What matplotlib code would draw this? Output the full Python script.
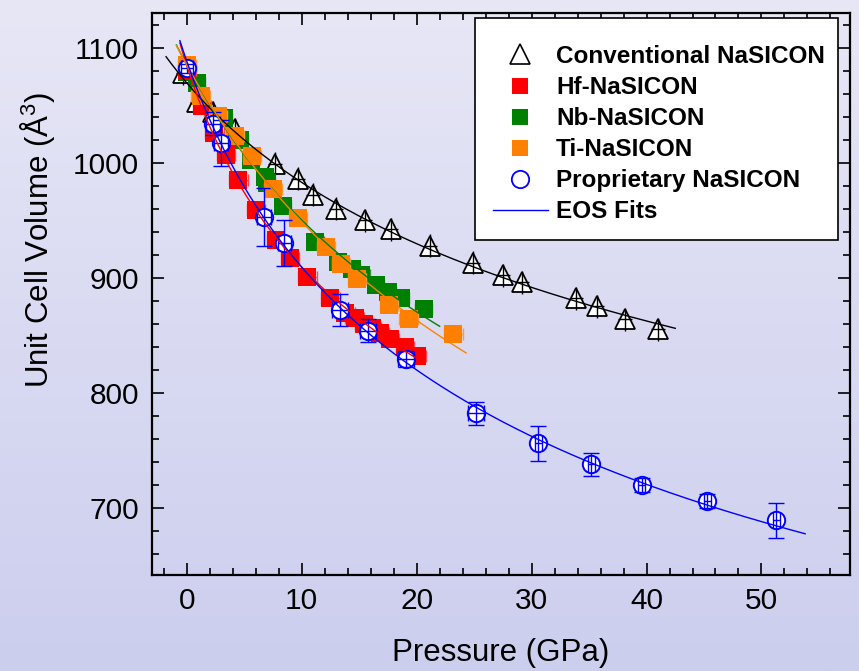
import numpy as np
import matplotlib
matplotlib.use("Agg")
import matplotlib.pyplot as plt
from matplotlib.lines import Line2D
from matplotlib.patches import Rectangle
from matplotlib import font_manager

# ---- data ----
conv_p = [-0.3, 0.9, 2.3, 4.2, 7.7, 9.7, 11.0, 13.0, 15.5, 17.8, 21.2, 24.9, 27.5, 29.2, 33.9, 35.7, 38.1, 41.0]
conv_v = [1078, 1053, 1044, 1029, 999, 986, 972, 960, 950, 942, 928, 913, 902, 896, 882, 875, 864, 855]

hf_p = [0.0, 1.3, 2.4, 3.4, 4.5, 6.0, 7.8, 9.0, 10.5, 12.5, 13.8, 14.6, 15.4, 16.1, 16.8, 17.7, 19.0, 20.0]
hf_v = [1081, 1049, 1026, 1007, 985, 959, 933, 917, 901, 882, 869, 865, 860, 856, 852, 847, 840, 832]

nb_p = [0.0, 0.9, 3.2, 4.6, 5.6, 6.8, 7.0, 8.4, 11.2, 13.2, 14.4, 15.2, 16.5, 17.5, 18.6, 20.6]
nb_v = [1079, 1069, 1039, 1020, 1002, 988, 982, 962, 931, 914, 908, 902, 894, 888, 882, 873]

ti_p = [0.0, 1.2, 2.7, 4.2, 5.7, 7.5, 9.7, 12.1, 13.4, 14.8, 17.6, 19.3, 23.2]
ti_v = [1085, 1058, 1041, 1023, 1006, 977, 952, 927, 912, 899, 876, 864, 851]

prop_p = [0.0, 2.3, 3.0, 6.7, 8.5, 13.3, 15.8, 19.1, 25.2, 30.6, 35.2, 39.6, 45.3, 51.3]
prop_v = [1082, 1034, 1017, 953, 930, 872, 854, 829, 782, 756, 738, 720, 706, 689]
prop_verr = [4, 10, 20, 25, 20, 14, 10, 7, 10, 15, 10, 6, 6, 15]
prop_perr = [0.5, 0.6, 0.6, 0.6, 0.6, 0.7, 0.7, 0.7, 0.7, 0.3, 0.3, 0.3, 0.3, 0.3]

# pressure span of each EOS fit line
fit_span = {
    "conv": (-1.8, 42.5),
    "hf": (-0.6, 20.0),
    "nb": (-0.9, 22.0),
    "ti": (-0.9, 24.3),
    "prop": (-0.6, 53.8),
}

labels = ["Conventional NaSICON", "Hf-NaSICON", "Nb-NaSICON", "Ti-NaSICON",
          "Proprietary NaSICON", "EOS Fits"]

# ---- fonts ----
names = {f.name for f in font_manager.fontManager.ttflist}
base_font = "Liberation Sans" if "Liberation Sans" in names else "DejaVu Sans"
narrow = "Liberation Sans Narrow" in names
lab_font = "Liberation Sans Narrow" if narrow else base_font
tick_size = 24 if narrow else 21.5
lab_size = 26 if narrow else 22.5
plt.rcParams["font.family"] = [lab_font, "DejaVu Sans"]
plt.rcParams["mathtext.fontset"] = "custom"
plt.rcParams["mathtext.rm"] = lab_font

fig = plt.figure(figsize=(8.59, 6.71), dpi=100)

# gradient background
bg = fig.add_axes([0, 0, 1, 1], zorder=-10)
top_c = np.array([231, 231, 246]) / 255
bot_c = np.array([204, 206, 238]) / 255
t = np.linspace(0, 1, 256)[:, None]
grad = top_c[None, :] * (1 - t) + bot_c[None, :] * t
bg.imshow(grad[:, None, :], aspect="auto", extent=[0, 1, 0, 1])
bg.axis("off")

ax = fig.add_axes([0.1766, 0.1431, 0.8129, 0.8375])
ax.set_facecolor("none")


def murnaghan_fit(p, v):
    # brute force least squares over K0, K'; V0 solved linearly
    p = np.asarray(p, float)
    v = np.asarray(v, float)
    best = None
    for k0 in np.arange(20, 300, 1.0):
        for kp in np.arange(1.0, 15.0, 0.1):
            g = (1 + kp * p / k0) ** (-1 / kp)
            v0 = g @ v / (g @ g)
            r = np.sum((v - v0 * g) ** 2)
            if best is None or r < best[0]:
                best = (r, v0, k0, kp)
    return best[1:]


def eos_line(p, v, span, color):
    v0, k0, kp = murnaghan_fit(p, v)
    pp = np.linspace(span[0], span[1], 200)
    ax.plot(pp, v0 * (1 + kp * pp / k0) ** (-1 / kp), color=color, lw=1.0, zorder=10)


# conventional
ax.plot(conv_p, conv_v, "^", ms=14, mfc="white", mec="black", mew=1.3, zorder=3)
ax.errorbar(conv_p, conv_v, xerr=0.6, yerr=10, fmt="none", ecolor="black",
            elinewidth=1.0, capsize=0, zorder=3.5)
eos_line(conv_p, conv_v, fit_span["conv"], "black")

# Nb
ax.errorbar(nb_p, nb_v, xerr=0.7, fmt="none", ecolor="#3a9a3a", elinewidth=1.0,
            capsize=4.5, zorder=4)
ax.plot(nb_p, nb_v, "s", ms=12.5, mfc="#008000", mec="#008000", mew=0, zorder=4.2)
eos_line(nb_p, nb_v, fit_span["nb"], "#008000")

# Hf
ax.errorbar(hf_p, hf_v, xerr=0.8, fmt="none", ecolor="#ff4a4a", elinewidth=1.0,
            capsize=4.5, zorder=5)
ax.plot(hf_p, hf_v, "s", ms=12.5, mfc="#ff0000", mec="#ff0000", mew=0, zorder=5.2)
eos_line(hf_p, hf_v, fit_span["hf"], "#ff0000")

# Ti
ax.errorbar(ti_p, ti_v, xerr=0.8, fmt="none", ecolor="#ff9a3a", elinewidth=1.0,
            capsize=4.5, zorder=6)
ax.plot(ti_p, ti_v, "s", ms=12.5, mfc="#ff8000", mec="#ff8000", mew=0, zorder=6.2)
eos_line(ti_p, ti_v, fit_span["ti"], "#ff8000")

# Proprietary
ax.plot(prop_p, prop_v, "o", ms=12.5, mfc="white", mec="#0000ff", mew=1.4, zorder=8)
ax.errorbar(prop_p, prop_v, xerr=prop_perr, yerr=prop_verr, fmt="none",
            ecolor="#0000ff", elinewidth=1.0, capsize=6, capthick=1.0, zorder=8.5)
eos_line(prop_p, prop_v, fit_span["prop"], "#0000ff")

ax.set_xlim(-3.05, 57.7)
ax.set_ylim(641.5, 1130.2)
ax.set_xticks([0, 10, 20, 30, 40, 50])
ax.set_xticks(np.arange(-2, 58, 2), minor=True)
ax.set_yticks([700, 800, 900, 1000, 1100])
ax.set_yticks(np.arange(660, 1130, 20), minor=True)
ax.tick_params(which="both", direction="in", top=True, right=True, width=1.2,
               labelsize=tick_size, pad=9, colors="black")
ax.tick_params(which="major", length=8.5)
ax.tick_params(which="minor", length=4.8)
for s in ax.spines.values():
    s.set_linewidth(1.6)

ax.set_xlabel("Pressure (GPa)", fontsize=lab_size, labelpad=16)
ax.set_ylabel("Unit Cell Volume (Å$^3$)", fontsize=lab_size)
ax.yaxis.set_label_coords(-0.136, 0.596)

# legend frame drawn by hand, contents placed inside it
fig.patches.append(Rectangle((475 / 859, 1 - 240 / 671), 363 / 859, 222 / 671,
                             transform=fig.transFigure, facecolor="white",
                             edgecolor="black", lw=1.2, zorder=19))
handles = [
    Line2D([], [], ls="none", marker="^", ms=14, mfc="white", mec="black", mew=1.2),
    Line2D([], [], ls="none", marker="s", ms=12, mfc="#ff0000", mec="#ff0000", mew=0),
    Line2D([], [], ls="none", marker="s", ms=12, mfc="#008000", mec="#008000", mew=0),
    Line2D([], [], ls="none", marker="s", ms=12, mfc="#ff8000", mec="#ff8000", mew=0),
    Line2D([], [], ls="none", marker="o", ms=12.5, mfc="white", mec="#0000ff", mew=1.3),
    Line2D([], [], color="#0000ff", lw=1.0),
]
leg = fig.legend(handles, labels, loc="upper left",
                 bbox_to_anchor=(492.7 / 859, 1 - 45 / 671), bbox_transform=fig.transFigure,
                 borderaxespad=0, borderpad=0, frameon=False,
                 handlelength=2.27, handletextpad=0.33, labelspacing=0.33,
                 prop={"family": base_font, "weight": "bold", "size": 17.5})
leg.set_zorder(20)

fig.savefig("out.png", dpi=100)
